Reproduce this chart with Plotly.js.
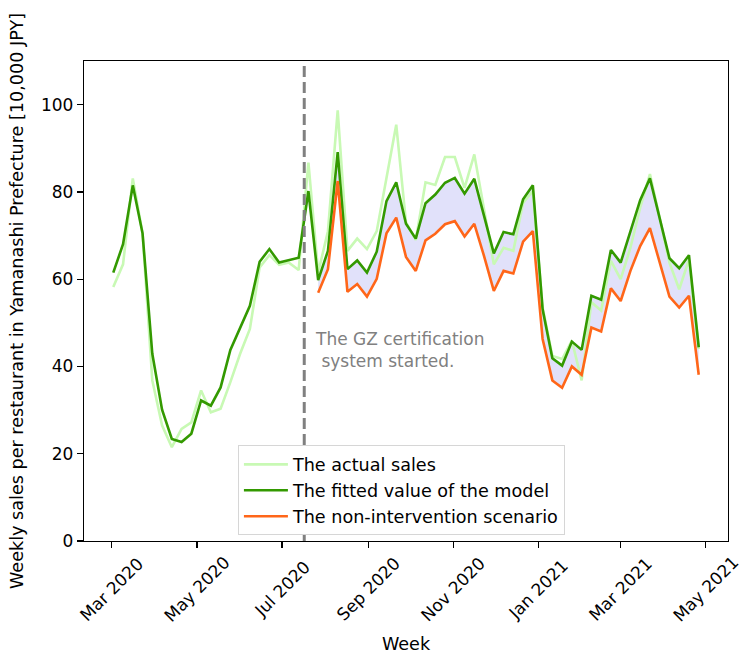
<!DOCTYPE html>
<html>
<head>
<meta charset="utf-8">
<script src="https://cdn.plot.ly/plotly-3.0.1.min.js"></script>
<style>html,body{margin:0;padding:0;background:#fff;}#chart{width:739px;height:655px;}</style>
</head>
<body>
<div id="chart"></div>
<script>
const weeks = [
 '2020-03-02','2020-03-09','2020-03-16','2020-03-23','2020-03-30',
 '2020-04-06','2020-04-13','2020-04-20','2020-04-27',
 '2020-05-04','2020-05-11','2020-05-18','2020-05-25',
 '2020-06-01','2020-06-08','2020-06-15','2020-06-22','2020-06-29',
 '2020-07-06','2020-07-13','2020-07-20','2020-07-27',
 '2020-08-03','2020-08-10','2020-08-17','2020-08-24','2020-08-31',
 '2020-09-07','2020-09-14','2020-09-21','2020-09-28',
 '2020-10-05','2020-10-12','2020-10-19','2020-10-26',
 '2020-11-02','2020-11-09','2020-11-16','2020-11-23','2020-11-30',
 '2020-12-07','2020-12-14','2020-12-21','2020-12-28',
 '2021-01-04','2021-01-11','2021-01-18','2021-01-25',
 '2021-02-01','2021-02-08','2021-02-15','2021-02-22',
 '2021-03-01','2021-03-08','2021-03-15','2021-03-22','2021-03-29',
 '2021-04-05','2021-04-12','2021-04-19','2021-04-26'
];
const actualSales = [
 58.2, 63.4, 83.1, 70.5, 36.8, 26.5, 21.5, 25.7, 27.2, 34.5,
 29.5, 30.3, 36.4, 42.9, 48.6, 62.7, 65.5, 63.3, 63.8, 62.1,
 86.7, 61.5, 71.0, 98.7, 66.5, 69.3, 66.9, 71.0, 83.2, 95.4,
 73.0, 69.0, 82.2, 81.6, 88.0, 88.0, 80.9, 88.6, 76.0, 63.4,
 67.2, 66.5, 77.5, 80.2, 53.5, 42.4, 41.7, 45.9, 36.8, 54.7,
 52.8, 64.2, 60.0, 67.2, 76.4, 84.1, 74.0, 63.8, 57.7, 64.5,
 44.0
];
const fittedValue = [
 61.5, 68.0, 81.5, 70.5, 42.9, 30.1, 23.4, 22.7, 24.6, 32.2,
 31.0, 35.2, 43.8, 48.9, 53.9, 64.0, 66.9, 63.8, 64.3, 64.9,
 80.2, 59.8, 66.5, 89.1, 62.3, 64.3, 61.5, 66.3, 77.9, 82.2,
 72.7, 69.3, 77.4, 79.4, 82.1, 83.2, 79.6, 83.0, 74.5, 65.9,
 70.8, 70.3, 78.3, 81.5, 53.1, 41.9, 40.2, 45.7, 43.8, 56.2,
 55.3, 66.7, 63.8, 70.7, 78.1, 83.1, 74.1, 64.8, 62.5, 65.5,
 44.4
];
// non-intervention scenario, from the week of 2020-07-27 onward
const scenarioStart = 21;
const nonIntervention = [
 56.9, 62.3, 82.5, 57.1, 58.9, 56.0, 60.1, 70.5, 74.1,
 65.1, 61.9, 68.9, 70.4, 72.6, 73.3, 69.8, 72.7, 65.3, 57.3,
 61.9, 61.3, 68.6, 71.0, 46.3, 36.8, 35.1, 40.0, 38.1, 48.9,
 48.0, 57.9, 55.0, 61.9, 67.6, 71.7, 63.8, 56.0, 53.5, 56.2,
 38.1
];
const certStart = '2020-07-17';
const tickDates = ['2020-03-01','2020-05-01','2020-07-01','2020-09-01','2020-11-01','2021-01-01','2021-03-01','2021-05-01'];
const tickLabels = ['Mar 2020','May 2020','Jul 2020','Sep 2020','Nov 2020','Jan 2021','Mar 2021','May 2021'];
const yTicks = [0, 20, 40, 60, 80, 100];

const FONT = 'DejaVu Sans, sans-serif';
const FS = 17;
const FS_TEXT = 17.6;
const scenWeeks = weeks.slice(scenarioStart);
const fitTail = fittedValue.slice(scenarioStart);

const traces = [
 {x: scenWeeks, y: nonIntervention, mode: 'lines', line: {width: 0, color: 'rgba(0,0,0,0)'}, showlegend: false, hoverinfo: 'skip'},
 {x: scenWeeks, y: fitTail, mode: 'lines', line: {width: 0, color: 'rgba(0,0,0,0)'}, fill: 'tonexty', fillcolor: 'rgba(225,225,250,1)', showlegend: false, hoverinfo: 'skip'},
 {x: weeks, y: actualSales, mode: 'lines', name: 'The actual sales', line: {color: '#c8f9b4', width: 2.6}},
 {x: weeks, y: fittedValue, mode: 'lines', name: 'The fitted value of the model', line: {color: '#339900', width: 2.6}},
 {x: scenWeeks, y: nonIntervention, mode: 'lines', name: 'The non-intervention scenario', line: {color: '#ff6619', width: 2.6}}
];

const annotations = tickDates.map((d, i) => ({
 x: d, xref: 'x', y: 0, yref: 'paper', yshift: -48,
 text: tickLabels[i], showarrow: false, textangle: -45,
 xanchor: 'center', yanchor: 'middle',
 font: {family: FONT, size: FS, color: '#000'}
}));
annotations.push({
 x: 0.356, xref: 'paper', y: 0.445, yref: 'paper',
 xanchor: 'left', yanchor: 'top', align: 'left', showarrow: false,
 text: 'The GZ certification<br>\u00a0system started.',
 font: {family: FONT, size: FS, color: '#808080'}
});

const layout = {
 width: 739, height: 655,
 margin: {l: 84, r: 11, t: 61, b: 114},
 paper_bgcolor: '#fff', plot_bgcolor: '#fff',
 font: {family: FONT, size: FS, color: '#000'},
 showlegend: true,
 xaxis: {
  type: 'date', range: ['2020-02-10', '2021-05-17'],
  tickvals: tickDates, showticklabels: false,
  ticks: 'outside', ticklen: 6, tickwidth: 1.2, tickcolor: '#000',
  showline: true, mirror: true, linecolor: '#000', linewidth: 1.2,
  showgrid: false, zeroline: false,
  title: {text: 'Week', font: {family: FONT, size: FS_TEXT, color: '#000'}, standoff: 90}
 },
 yaxis: {
  range: [0, 110], tickvals: yTicks, ticktext: yTicks.map(String),
  ticks: 'outside', ticklen: 6, tickwidth: 1.2, tickcolor: '#000',
  showline: true, mirror: true, linecolor: '#000', linewidth: 1.2,
  showgrid: false, zeroline: false,
  tickfont: {family: FONT, size: FS, color: '#000'},
  title: {text: 'Weekly sales per restaurant in Yamanashi Prefecture [10,000 JPY]', font: {family: FONT, size: FS_TEXT, color: '#000'}, standoff: 12}
 },
 legend: {
  x: 0.239, y: 0.199, xanchor: 'left', yanchor: 'top',
  bgcolor: '#fff', bordercolor: '#d6d6d6', borderwidth: 1,
  font: {family: FONT, size: FS_TEXT, color: '#000'},
  itemwidth: 44, traceorder: 'normal'
 },
 shapes: [{
  type: 'line', xref: 'x', yref: 'paper', x0: certStart, x1: certStart, y0: 0, y1: 1,
  line: {color: '#808080', width: 3, dash: '11px,5px'}
 }],
 annotations: annotations
};

Plotly.newPlot('chart', traces, layout, {displayModeBar: false, staticPlot: true});
</script>
</body>
</html>
